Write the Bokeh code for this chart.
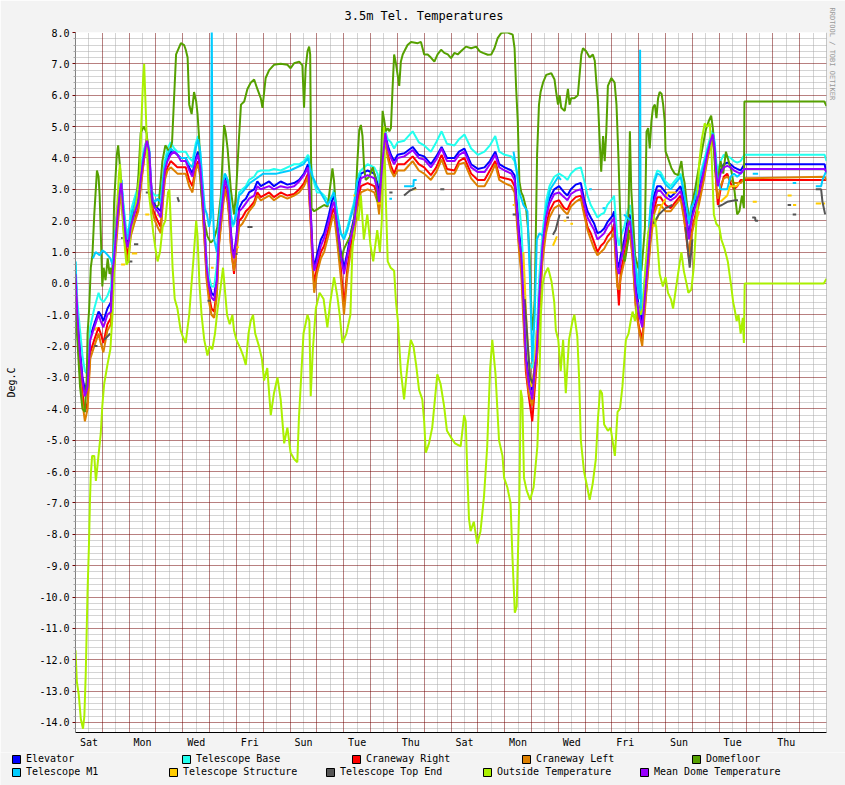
import numpy as np
from bokeh.plotting import figure
from bokeh.layouts import column
from bokeh.models import (Range1d, FixedTicker, Grid, Legend, LegendItem, Span, Title,
                          PrintfTickFormatter)
from bokeh.embed import file_html
from bokeh.resources import INLINE

nan = float("nan")
FONT = "DejaVu Sans Mono"

# ---------------- data (x = days since the first Saturday 00:00) ----------------
day_ticks = [0.5, 2.5, 4.5, 6.5, 8.5, 10.5, 12.5, 14.5, 16.5, 18.5, 20.5, 22.5, 24.5, 26.5]
day_names = ["Sat", "Mon", "Wed", "Fri", "Sun", "Tue", "Thu",
             "Sat", "Mon", "Wed", "Fri", "Sun", "Tue", "Thu"]

t_in = [0.00, 0.07, 0.17, 0.26, 0.35, 0.45, 0.55, 0.70, 0.86, 0.94,
        1.04, 1.19, 1.32, 1.38, 1.44, 1.57, 1.66, 1.71, 1.78, 1.88,
        1.94, 2.00, 2.06, 2.19, 2.34, 2.44, 2.56, 2.66, 2.75, 2.81,
        2.87, 2.96, 3.06, 3.18, 3.24, 3.33, 3.43, 3.55, 3.68, 3.80,
        3.93, 4.11, 4.24, 4.36, 4.48, 4.57, 4.65, 4.73, 4.82, 4.89,
        4.98, 5.07, 5.17, 5.27, 5.35, 5.48, 5.57, 5.67, 5.73, 5.79,
        5.85, 5.91, 6.00, 6.10, 6.22, 6.35, 6.47, 6.66, 6.78, 6.91,
        7.22, 7.40, 7.65, 7.90, 8.15, 8.34, 8.52, 8.67, 8.77, 8.84,
        8.90, 9.00, 9.15, 9.27, 9.45, 9.58, 9.64, 9.76, 9.89, 10.01,
        10.14, 10.26, 10.39, 10.51, 10.64, 10.89, 11.14, 11.26, 11.32, 11.45,
        11.55, 11.64, 11.76, 11.88, 12.01, 12.26, 12.57, 12.80, 13.00, 13.25,
        13.45, 13.65, 13.85, 14.13, 14.30, 14.50, 14.75, 15.00, 15.25, 15.45,
        15.65, 15.80, 16.00, 16.25, 16.37, 16.48, 16.54, 16.62, 16.70, 16.79,
        16.90, 17.03, 17.10, 17.20, 17.29, 17.41, 17.54, 17.67, 17.85, 18.03,
        18.22, 18.34, 18.47, 18.65, 18.84, 18.96, 19.09, 19.21, 19.34, 19.46,
        19.59, 19.71, 19.83, 20.02, 20.08, 20.14, 20.20, 20.26, 20.33, 20.46,
        20.58, 20.67, 20.77, 20.89, 21.01, 21.13, 21.19, 21.32, 21.44, 21.57,
        21.69, 21.81, 22.00, 22.19, 22.37, 22.56, 22.68, 22.81, 22.87, 22.96,
        23.06, 23.24, 23.43, 23.55, 23.68, 23.76, 23.83, 23.90, 23.95, 24.05,
        24.17, 24.30, 24.42, 24.55, 24.67, 24.80, 24.94, 27.93, 28.00]

mean_dome = [0.3, -1.0, -2.3, -3.1, -3.6, -3.3, -1.8, -1.4, -1.0, -1.2,
             -1.4, -1.0, -0.9, 0.3, 0.8, 2.2, 2.96, 3.2, 2.3, 1.4,
             1.15, 1.4, 1.8, 2.2, 2.6, 3.4, 4.1, 4.55, 4.2, 3.25,
             2.6, 2.4, 2.3, 2.1, 2.75, 3.6, 3.9, 4.1, 4.2, 4.1,
             3.9, 3.9, 3.6, 3.4, 3.9, 4.1, 3.7, 2.85, 1.6, 0.5,
             -0.1, -0.45, -0.55, 0.1, 1.6, 2.6, 3.3, 3.0, 2.5, 1.6,
             1.05, 0.8, 1.4, 2.3, 2.4, 2.55, 2.7, 2.8, 3.1, 3.0,
             3.1, 3.0, 3.1, 3.05, 3.1, 3.25, 3.45, 3.7, 2.2, 0.9,
             0.4, 0.7, 1.2, 1.45, 2.0, 2.5, 2.6, 1.8, 0.9, 0.3,
             0.9, 1.45, 1.9, 2.8, 3.35, 3.45, 3.35, 3.0, 2.6, 3.9,
             4.8, 4.3, 4.0, 3.8, 4.0, 4.05, 4.25, 4.0, 3.95, 3.7,
             3.95, 4.3, 3.9, 3.9, 4.1, 4.2, 3.7, 3.55, 3.55, 3.8,
             4.1, 3.7, 3.6, 3.5, 3.3, 2.1, 1.4, 0.9, -0.5, -2.4,
             -3.2, -3.7, -3.0, -2.1, -0.4, 1.2, 2.1, 2.55, 2.85, 2.9,
             2.75, 2.65, 2.85, 2.95, 3.0, 2.55, 2.1, 1.9, 1.7, 1.4,
             1.5, 1.6, 1.8, 2.0, 2.1, 1.2, 0.5, 0.3, 0.7, 1.2,
             1.8, 2.0, 1.2, -0.3, -1.0, -1.4, -0.8, 0.5, 1.8, 2.6,
             2.95, 2.95, 2.75, 2.65, 2.75, 2.95, 2.5, 1.8, 1.4, 2.0,
             2.3, 2.85, 3.6, 4.1, 4.55, 4.75, 4.3, 3.4, 3.1, 3.5,
             3.7, 3.75, 3.7, 3.6, 3.55, 3.5, 3.65, 3.65, 3.55]

elevator = [0.4, -0.9, -2.1, -3.0, -3.4, -3.1, -1.7, -1.3, -0.9, -1.0,
            -1.2, -0.8, -0.6, 0.5, 1.0, 2.4, 3.1, 3.3, 2.4, 1.5,
            1.3, 1.5, 1.9, 2.3, 2.7, 3.5, 4.2, 4.6, 4.2, 3.3,
            2.7, 2.5, 2.4, 2.3, 2.9, 3.7, 4.0, 4.2, 4.2, 4.1,
            4.0, 4.0, 3.7, 3.5, 4.0, 4.2, 3.8, 2.9, 1.6, 0.6,
            0.0, -0.3, -0.4, 0.2, 1.7, 2.8, 3.4, 3.1, 2.6, 1.7,
            1.1, 0.9, 1.5, 2.4, 2.6, 2.7, 2.9, 3.0, 3.25, 3.1,
            3.25, 3.1, 3.25, 3.15, 3.2, 3.3, 3.5, 3.8, 2.3, 1.0,
            0.5, 0.9, 1.4, 1.6, 2.2, 2.7, 2.8, 1.9, 1.0, 0.5,
            1.0, 1.6, 2.1, 3.0, 3.5, 3.6, 3.5, 3.2, 2.8, 4.0,
            4.8, 4.4, 4.1, 3.9, 4.1, 4.15, 4.35, 4.1, 4.05, 3.8,
            4.05, 4.35, 4.0, 4.0, 4.2, 4.3, 3.8, 3.65, 3.7, 3.9,
            4.2, 3.8, 3.7, 3.6, 3.45, 2.3, 1.6, 1.1, -0.3, -2.2,
            -3.0, -3.4, -2.8, -1.9, -0.2, 1.3, 2.3, 2.7, 3.0, 3.1,
            2.9, 2.8, 3.0, 3.15, 3.2, 2.7, 2.3, 2.1, 1.9, 1.6,
            1.65, 1.75, 1.95, 2.15, 2.3, 1.4, 0.7, 0.5, 0.9, 1.4,
            2.0, 2.2, 1.4, -0.1, -0.8, -1.2, -0.6, 0.7, 2.0, 2.8,
            3.1, 3.1, 2.9, 2.75, 2.9, 3.1, 2.7, 1.9, 1.5, 2.1,
            2.4, 3.0, 3.7, 4.2, 4.6, 4.8, 4.4, 3.5, 3.2, 3.6,
            3.8, 3.85, 3.8, 3.7, 3.65, 3.6, 3.8, 3.8, 3.5]

tel_base = [0.7, -0.6, -1.5, -2.3, -2.8, -2.9, -1.4, -0.8, -0.3, -0.5,
            -0.6, -0.4, -0.1, 0.6, 1.1, 2.4, 3.1, 3.3, 2.6, 1.8,
            1.6, 1.8, 2.3, 2.7, 3.1, 3.7, 4.3, 4.6, 4.3, 3.1,
            2.9, 2.8, 2.8, 2.85, 3.2, 3.9, 4.3, 4.5, 4.3, 4.2,
            4.2, 4.2, 4.0, 3.9, 4.45, 4.7, 4.2, 3.1, 1.6, 0.7,
            0.2, -0.1, -0.1, 0.6, 2.0, 3.1, 3.5, 3.3, 2.9, 2.2,
            1.8, 1.9, 2.3, 2.9, 3.0, 3.1, 3.3, 3.4, 3.56, 3.6,
            3.6, 3.65, 3.6, 3.7, 3.8, 3.8, 3.9, 4.1, 3.9, 3.4,
            3.2, 2.9, 2.9, 2.8, 2.6, 2.8, 3.0, 2.2, 1.6, 1.5,
            1.8, 2.2, 2.6, 3.4, 3.6, 3.8, 3.7, 3.5, 3.2, 4.2,
            4.85, 4.6, 4.5, 4.3, 4.5, 4.55, 4.85, 4.5, 4.4, 4.2,
            4.5, 4.85, 4.45, 4.4, 4.6, 4.75, 4.3, 4.1, 4.2, 4.4,
            4.7, 4.2, 4.1, 4.05, 3.9, 3.4, 2.5, 1.8, 0.5, -1.5,
            -2.5, -2.7, -2.3, -1.5, 0.2, 1.6, 2.6, 3.1, 3.4, 3.5,
            3.4, 3.3, 3.5, 3.65, 3.7, 3.3, 2.8, 2.5, 2.3, 2.1,
            2.2, 2.25, 2.5, 2.7, 2.8, 2.1, 1.5, 1.2, 1.5, 1.8,
            2.3, 2.5, 2.0, 0.6, -0.2, -0.6, -0.1, 1.1, 2.5, 3.3,
            3.6, 3.55, 3.25, 3.1, 3.3, 3.5, 3.0, 2.4, 2.0, 2.5,
            2.7, 3.3, 3.9, 4.3, 4.7, 4.9, 4.5, 3.8, 3.6, 3.9,
            4.1, 4.05, 4.0, 3.9, 3.85, 3.9, 4.1, 4.1, 3.9]

craneway_right = [0.1, -1.3, -2.6, -3.5, -4.1, -3.8, -2.2, -1.8, -1.4, -1.6,
                  -1.9, -1.3, -1.1, 0.0, 0.6, 2.0, 2.8, 3.0, 2.0, 1.2,
                  0.9, 1.2, 1.6, 2.0, 2.4, 3.2, 4.0, 4.5, 4.0, 3.0,
                  2.4, 2.2, 2.0, 1.8, 2.5, 3.4, 3.7, 3.9, 3.8, 3.7,
                  3.7, 3.7, 3.3, 3.1, 3.7, 3.9, 3.5, 2.6, 1.3, 0.2,
                  -0.4, -0.8, -0.9, -0.2, 1.3, 2.4, 3.1, 2.7, 2.2, 1.3,
                  0.8, 0.3, 1.1, 2.0, 2.1, 2.3, 2.4, 2.6, 2.9, 2.75,
                  2.9, 2.75, 2.9, 2.8, 2.85, 3.0, 3.2, 3.5, 2.0, 0.6,
                  0.0, 0.5, 1.0, 1.2, 1.8, 2.3, 2.4, 1.5, 0.5, -0.7,
                  0.5, 1.2, 1.7, 2.6, 3.1, 3.2, 3.1, 2.8, 2.4, 3.8,
                  4.6, 4.1, 3.75, 3.5, 3.8, 3.8, 4.05, 3.8, 3.7, 3.45,
                  3.7, 4.1, 3.65, 3.6, 3.9, 4.0, 3.5, 3.3, 3.3, 3.6,
                  3.9, 3.4, 3.35, 3.3, 3.1, 1.9, 1.2, 0.6, -0.8, -2.8,
                  -3.6, -4.4, -3.6, -2.5, -0.8, 0.9, 1.8, 2.3, 2.6, 2.65,
                  2.4, 2.35, 2.6, 2.75, 2.8, 2.3, 1.8, 1.6, 1.3, 1.0,
                  1.2, 1.3, 1.5, 1.7, 1.9, 0.9, 0.1, -0.7, 0.4, 0.9,
                  1.5, 1.7, 0.9, -0.7, -1.4, -1.8, -1.1, 0.2, 1.5, 2.35,
                  2.75, 2.75, 2.5, 2.4, 2.6, 2.8, 2.2, 1.2, 0.8, 1.6,
                  2.0, 2.6, 3.4, 4.0, 4.4, 4.6, 4.1, 3.0, 2.5, 3.0,
                  3.4, 3.5, 3.2, 3.0, 3.1, 3.3, 3.3, 3.3, 3.3]

craneway_left = [0.0, -1.5, -2.9, -3.8, -4.4, -4.0, -2.4, -2.0, -1.6, -1.9,
                 -2.2, -1.5, -1.3, -0.2, 0.4, 1.8, 2.6, 2.9, 1.8, 1.0,
                 0.7, 1.0, 1.5, 1.9, 2.3, 3.1, 4.0, 4.7, 4.0, 2.9,
                 2.3, 2.0, 1.8, 1.6, 2.4, 3.3, 3.6, 3.7, 3.6, 3.5,
                 3.5, 3.5, 3.1, 2.9, 3.6, 3.8, 3.4, 2.5, 1.2, 0.1,
                 -0.6, -1.0, -1.1, -0.4, 1.2, 2.3, 3.0, 2.6, 2.1, 1.2,
                 0.7, 0.4, 1.0, 1.8, 1.9, 2.1, 2.3, 2.5, 2.8, 2.65,
                 2.8, 2.65, 2.8, 2.7, 2.8, 2.9, 3.1, 3.4, 1.9, 0.5,
                 -0.3, 0.3, 0.8, 1.0, 1.6, 2.1, 2.2, 1.3, 0.2, -1.0,
                 0.3, 1.0, 1.5, 2.4, 2.9, 3.0, 2.9, 2.6, 2.2, 3.7,
                 4.7, 4.0, 3.6, 3.4, 3.6, 3.6, 3.9, 3.6, 3.5, 3.3,
                 3.55, 3.95, 3.5, 3.5, 3.8, 3.85, 3.35, 3.1, 3.1, 3.4,
                 3.8, 3.3, 3.2, 3.1, 2.9, 1.7, 1.0, 0.3, -1.2, -2.6,
                 -3.5, -3.9, -3.3, -2.4, -1.0, 0.7, 1.6, 2.1, 2.4, 2.5,
                 2.3, 2.2, 2.45, 2.6, 2.7, 2.2, 1.7, 1.4, 1.1, 0.9,
                 1.0, 1.1, 1.3, 1.5, 1.7, 0.7, -0.1, -0.2, 0.2, 0.7,
                 1.3, 1.6, 0.8, -0.8, -1.5, -2.0, -1.3, 0.1, 1.3, 2.2,
                 2.5, 2.5, 2.3, 2.3, 2.5, 2.7, 2.1, 1.3, 0.9, 1.5,
                 1.9, 2.5, 3.3, 3.9, 4.4, 4.6, 4.0, 3.0, 2.7, 3.1,
                 3.35, 3.4, 3.3, 3.2, 3.2, 3.2, 3.35, 3.4, 3.3]

t_dome = [0.00, 0.07, 0.17, 0.26, 0.35, 0.42, 0.45, 0.51, 0.57, 0.63,
          0.70, 0.80, 0.86, 0.90, 0.95, 1.00, 1.05, 1.12, 1.20, 1.27,
          1.32, 1.38, 1.44, 1.54, 1.59, 1.66, 1.75, 1.82, 1.90, 2.00,
          2.12, 2.25, 2.35, 2.43, 2.55, 2.65, 2.75, 2.85, 2.95, 3.10,
          3.24, 3.35, 3.50, 3.60, 3.68, 3.75, 3.93, 4.05, 4.11, 4.18,
          4.24, 4.33, 4.42, 4.50, 4.55, 4.61, 4.68, 4.80, 4.92, 5.04,
          5.16, 5.29, 5.42, 5.54, 5.60, 5.67, 5.79, 5.91, 5.98, 6.10,
          6.17, 6.29, 6.41, 6.53, 6.66, 6.78, 6.91, 6.97, 7.09, 7.22,
          7.40, 7.65, 7.90, 8.02, 8.15, 8.34, 8.46, 8.52, 8.58, 8.65,
          8.71, 8.75, 8.77, 8.80, 8.90, 9.08, 9.27, 9.40, 9.52, 9.58,
          9.64, 9.76, 9.89, 10.01, 10.14, 10.26, 10.39, 10.45, 10.51, 10.58,
          10.64, 10.70, 10.76, 10.82, 10.95, 11.08, 11.20, 11.26, 11.36, 11.45,
          11.51, 11.57, 11.64, 11.70, 11.76, 11.82, 11.88, 11.95, 12.01, 12.07,
          12.13, 12.20, 12.26, 12.38, 12.51, 12.76, 12.88, 13.00, 13.13, 13.25,
          13.38, 13.50, 13.63, 13.75, 13.88, 14.00, 14.13, 14.25, 14.37, 14.56,
          14.75, 14.94, 15.07, 15.19, 15.37, 15.50, 15.62, 15.74, 15.87, 15.99,
          16.12, 16.30, 16.37, 16.43, 16.49, 16.55, 16.62, 16.68, 16.74, 16.80,
          16.87, 16.93, 17.00, 17.06, 17.12, 17.15, 17.21, 17.28, 17.34, 17.43,
          17.55, 17.74, 17.86, 17.92, 17.99, 18.05, 18.11, 18.24, 18.36, 18.42,
          18.48, 18.60, 18.73, 18.86, 18.92, 19.04, 19.17, 19.29, 19.36, 19.42,
          19.48, 19.54, 19.60, 19.67, 19.73, 19.79, 19.85, 19.98, 20.10, 20.17,
          20.24, 20.30, 20.36, 20.48, 20.60, 20.67, 20.72, 20.79, 20.86, 20.98,
          21.10, 21.23, 21.29, 21.35, 21.41, 21.47, 21.53, 21.60, 21.66, 21.72,
          21.78, 21.85, 21.91, 21.97, 22.00, 22.09, 22.22, 22.34, 22.47, 22.59,
          22.65, 22.71, 22.80, 22.90, 23.00, 23.10, 23.20, 23.35, 23.50, 23.62,
          23.70, 23.77, 23.85, 23.95, 24.05, 24.15, 24.25, 24.35, 24.45, 24.55,
          24.67, 24.75, 24.85, 24.92, 24.94, 27.92, 28.00]

domefloor = [-0.9, -1.8, -3.3, -4.0, -4.1, -3.0, -1.6, -0.8, 0.5, 0.9,
             2.2, 3.6, 3.4, 2.8, 1.4, -0.1, 0.5, 0.1, 0.8, 0.3,
             0.5, -0.1, 2.6, 4.1, 4.4, 3.7, 2.6, 1.6, 1.4, 1.5,
             2.3, 2.4, 3.5, 4.8, 5.0, 4.8, 3.8, 2.7, 2.4, 2.5,
             3.9, 4.4, 4.2, 4.5, 6.0, 7.3, 7.66, 7.6, 7.45, 7.2,
             5.7, 5.4, 6.1, 5.8, 5.4, 4.6, 3.0, 2.0, 1.5, 1.3,
             1.4, 1.8, 2.8, 5.05, 4.8, 4.3, 3.0, 2.2, 2.8, 4.7,
             5.7, 5.8, 6.2, 6.4, 6.5, 6.2, 5.9, 5.6, 6.55, 6.8,
             6.97, 7.0, 6.97, 6.86, 7.02, 7.07, 6.95, 5.6, 6.86, 7.4,
             7.55, 7.3, 5.15, 2.4, 2.3, 2.4, 2.5, 2.45, 3.25, 3.67,
             3.25, 1.76, 0.7, 1.1, 1.33, 1.54, 2.0, 2.8, 3.9, 4.9,
             5.05, 4.7, 3.7, 3.3, 3.4, 3.7, 3.3, 2.6, 3.0, 5.5,
             5.2, 4.85, 4.95, 4.85, 4.95, 6.2, 7.3, 7.0, 6.65, 6.3,
             7.07, 7.3, 7.4, 7.6, 7.7, 7.66, 7.7, 7.3, 7.3, 7.2,
             7.07, 7.3, 7.45, 7.35, 7.3, 7.18, 7.35, 7.3, 7.4, 7.55,
             7.5, 7.55, 7.4, 7.35, 7.29, 7.3, 7.5, 7.82, 7.98, 8.0,
             8.0, 7.93, 7.5, 6.2, 5.15, 3.25, 2.9, 2.8, 2.6, 2.4,
             1.76, 0.9, -1.0, -1.5, -0.5, 0.9, 4.1, 5.7, 6.1, 6.4,
             6.65, 6.7, 6.5, 6.1, 5.7, 6.0, 5.6, 5.5, 6.2, 5.7,
             5.9, 5.9, 6.0, 7.3, 7.5, 7.4, 7.2, 7.3, 7.1, 6.4,
             5.8, 4.6, 3.56, 4.7, 3.9, 4.84, 6.3, 6.55, 6.4, 5.7,
             4.1, 2.4, 1.1, 0.7, 1.33, 4.85, 3.0, 2.0, 0.9, 0.5,
             0.4, 1.76, 4.84, 4.95, 4.3, 5.15, 5.6, 5.7, 5.27, 5.9,
             6.1, 6.05, 5.7, 5.15, 4.2, 4.0, 3.67, 3.5, 3.45, 3.9,
             3.45, 3.2, 2.5, 2.0, 2.6, 3.0, 3.5, 4.2, 4.9, 5.2,
             5.35, 4.9, 3.6, 3.3, 3.9, 3.5, 4.2, 3.9, 3.6, 3.1,
             2.2, 2.3, 2.8, 2.4, 5.8, 5.8, 5.65]

t_out = [0.00, 0.05, 0.12, 0.20, 0.28, 0.33, 0.38, 0.45, 0.50, 0.54,
         0.57, 0.62, 0.70, 0.76, 0.82, 0.88, 0.94, 1.00, 1.07, 1.19,
         1.30, 1.38, 1.45, 1.55, 1.62, 1.66, 1.72, 1.80, 1.90, 1.98,
         2.05, 2.20, 2.30, 2.40, 2.45, 2.52, 2.56, 2.60, 2.66, 2.72,
         2.80, 2.90, 3.00, 3.06, 3.15, 3.25, 3.35, 3.45, 3.50, 3.55,
         3.62, 3.70, 3.80, 3.92, 4.00, 4.11, 4.18, 4.24, 4.30, 4.40,
         4.50, 4.55, 4.62, 4.70, 4.80, 4.92, 5.00, 5.10, 5.20, 5.30,
         5.40, 5.50, 5.58, 5.65, 5.75, 5.85, 5.91, 6.00, 6.16, 6.25,
         6.35, 6.45, 6.53, 6.62, 6.70, 6.84, 6.95, 7.03, 7.15, 7.28,
         7.40, 7.53, 7.65, 7.78, 7.90, 8.02, 8.15, 8.27, 8.33, 8.40,
         8.50, 8.65, 8.72, 8.77, 8.85, 8.96, 9.10, 9.25, 9.39, 9.50,
         9.64, 9.76, 9.85, 9.95, 10.10, 10.25, 10.32, 10.45, 10.55, 10.64,
         10.75, 10.88, 11.00, 11.10, 11.25, 11.35, 11.42, 11.50, 11.56, 11.64,
         11.75, 11.88, 11.95, 12.02, 12.06, 12.13, 12.25, 12.38, 12.50, 12.60,
         12.70, 12.81, 12.93, 13.00, 13.06, 13.18, 13.30, 13.40, 13.49, 13.61,
         13.74, 13.85, 13.99, 14.15, 14.36, 14.49, 14.55, 14.61, 14.67, 14.73,
         14.85, 14.98, 15.10, 15.23, 15.35, 15.46, 15.54, 15.66, 15.79, 15.92,
         15.98, 16.10, 16.22, 16.29, 16.38, 16.45, 16.50, 16.55, 16.60, 16.66,
         16.72, 16.82, 16.95, 17.08, 17.22, 17.28, 17.35, 17.42, 17.50, 17.62,
         17.75, 17.85, 17.91, 18.00, 18.09, 18.18, 18.28, 18.40, 18.53, 18.60,
         18.71, 18.78, 18.84, 18.96, 19.08, 19.17, 19.28, 19.40, 19.48, 19.56,
         19.63, 19.71, 19.85, 19.95, 20.02, 20.11, 20.21, 20.30, 20.39, 20.52,
         20.62, 20.70, 20.77, 20.86, 20.95, 21.05, 21.16, 21.25, 21.35, 21.47,
         21.55, 21.65, 21.78, 21.90, 22.00, 22.09, 22.20, 22.28, 22.38, 22.50,
         22.59, 22.68, 22.78, 22.85, 22.96, 23.05, 23.15, 23.25, 23.35, 23.46,
         23.55, 23.65, 23.72, 23.80, 23.89, 24.00, 24.08, 24.20, 24.32, 24.40,
         24.45, 24.52, 24.57, 24.65, 24.72, 24.80, 24.88, 24.92, 24.95, 27.90,
         28.00]

outside = [-11.7, -12.7, -13.1, -13.9, -14.2, -13.8, -12.5, -9.8, -8.4, -6.9,
           -6.1, -5.5, -5.5, -6.3, -5.8, -5.3, -4.8, -3.9, -3.2, -2.6,
           -2.1, -1.0, 0.5, 2.4, 3.5, 3.8, 2.8, 1.5, 0.6, 0.7,
           1.6, 2.2, 2.8, 3.5, 5.0, 6.5, 7.0, 6.0, 4.5, 3.0,
           2.4, 1.6, 1.0, 0.7, 1.0, 1.8, 2.0, 2.9, 3.0, 2.0,
           0.5, -0.5, -0.8, -1.5, -1.7, -1.9, -1.4, -1.0, -0.3, 0.8,
           2.0, 1.5, 0.0, -1.0, -1.8, -2.3, -2.0, -2.1, -1.6, -0.8,
           -0.2, 0.5, -0.3, -1.0, -1.3, -1.0, -1.5, -1.8, -2.1, -2.3,
           -2.6, -1.6, -1.2, -1.0, -1.6, -2.0, -2.4, -3.1, -2.7, -4.2,
           -3.5, -3.0, -3.7, -5.1, -4.6, -5.4, -5.6, -5.7, -4.3, -3.2,
           -1.6, -1.0, -1.2, -3.6, -2.1, -0.8, -0.3, -0.5, -1.4, -0.6,
           0.2, -0.4, -1.0, -1.9, -1.6, -1.0, 1.0, 2.4, 2.0, 2.8,
           1.4, 2.2, 1.2, 0.7, 1.7, 1.0, 2.0, 5.0, 3.0, 0.7,
           0.5, 0.4, -0.6, -1.2, -1.8, -2.8, -3.7, -2.6, -1.8, -2.0,
           -2.6, -3.4, -3.7, -4.4, -5.4, -5.1, -4.6, -3.7, -2.9, -3.2,
           -3.9, -4.7, -4.9, -5.1, -5.2, -4.2, -4.4, -6.1, -7.5, -7.9,
           -7.6, -8.3, -7.9, -6.8, -5.2, -2.7, -1.8, -2.9, -5.0, -5.5,
           -6.2, -6.5, -7.0, -8.7, -10.5, -10.3, -8.5, -6.8, -3.4, -3.7,
           -6.2, -6.6, -6.9, -6.5, -5.2, -3.7, -1.0, 0.0, 0.3, 0.5,
           0.05, -0.6, -1.5, -1.8, -2.8, -1.8, -3.5, -1.8, -1.2, -1.0,
           -1.7, -3.1, -5.0, -6.0, -6.5, -6.9, -6.4, -5.6, -4.3, -3.4,
           -3.5, -4.5, -4.7, -4.6, -5.0, -5.5, -4.1, -4.0, -3.3, -1.8,
           -1.6, -1.2, -0.9, -1.2, -0.6, -1.0, -0.8, 0.5, 1.6, 2.0,
           2.2, 1.8, 0.3, -0.1, 0.2, -0.3, -0.5, -0.8, -0.2, 0.5,
           1.0, 0.4, 0.0, -0.3, -0.2, 0.5, 2.0, 3.8, 4.6, 5.1,
           5.0, 5.1, 4.0, 2.2, 1.9, 1.8, 1.4, 1.1, 0.7, 0.2,
           -0.1, -0.6, -0.8, -1.2, -1.0, -1.6, -1.1, -1.9, 0.0, 0.0,
           0.15]

t_m1 = [0.00, 0.03, 0.04,
        0.65, 0.75, 0.90, 1.00, 1.10, 1.20, 1.30, 1.38, 1.44, 1.57,
        1.66, 1.71, 1.78, 1.88, 1.94, 2.06, 2.19, 2.34, 2.44, 2.56,
        2.66, 2.75, 2.81, 2.87, 2.96, 3.06, 3.18, 3.24, 3.33, 3.43,
        3.55, 3.68, 3.80, 3.93, 4.11, 4.24, 4.36, 4.48, 4.57, 4.65,
        4.73, 4.82, 4.90, 4.98, 5.05, 5.08, 5.11, 5.17, 5.27, 5.35,
        5.48, 5.57, 5.67, 5.73, 5.79, 5.85, 5.91, 6.00, 6.10, 6.22,
        6.50, 7.00, 7.50, 8.00, 8.50, 8.67, 8.77, 8.84, 8.90, 9.00,
        9.20, 9.40, 9.64, 9.76, 9.89, 10.01, 10.14, 10.26, 10.39, 10.51,
        10.64, 10.70,
        11.70, 11.80, 11.81,
        12.25, 12.60, 12.61, 12.72, 12.73,
        16.33, 16.45, 16.55, 16.70, 16.85, 16.95, 17.03, 17.12, 17.20, 17.30,
        17.45, 17.55, 17.70, 18.00, 18.10, 18.11,
        19.15, 19.25, 19.26,
        19.65, 19.75, 19.76,
        20.45, 20.70, 20.82, 20.94, 21.02, 21.05, 21.08, 21.13, 21.20, 21.32,
        21.44, 21.57, 21.69, 21.81, 22.00, 22.19, 22.37, 22.56, 22.68, 22.81,
        22.87, 22.96, 23.06, 23.24, 23.43, 23.55, 23.68, 23.76, 23.83, 23.90,
        23.95, 24.05, 24.17, 24.30, 24.42, 24.55, 24.67, 24.80, 24.90, 24.91,
        25.25, 25.45, 25.46,
        26.74, 26.87, 26.88,
        27.60, 27.80, 27.85, 28.00]

tel_m1 = [0.7, -0.2, nan,
          0.8, 1.0, 0.9, 1.05, 1.0, 0.9, 0.8, 0.6, 1.2, 2.4,
          3.0, 3.2, 2.5, 1.6, 1.4, 2.1, 2.5, 3.0, 3.6, 4.2,
          4.5, 4.2, 3.0, 2.7, 2.6, 2.7, 2.6, 3.1, 3.8, 4.1,
          4.3, 4.2, 4.1, 4.0, 4.0, 3.8, 3.7, 4.3, 4.6, 4.2,
          3.3, 2.4, 2.2, 1.8, 2.1, 8.3, 2.7, 1.4, 1.0, 2.0,
          3.1, 3.5, 3.3, 2.9, 2.2, 1.9, 1.9, 2.3, 2.8, 2.9,
          3.2, 3.5, 3.5, 3.6, 3.8, 4.0, 3.6, 3.4, 3.3, 3.1,
          2.8, 2.5, 2.9, 2.2, 1.6, 1.4, 1.7, 2.1, 2.5, 3.3,
          3.5, nan,
          2.7, 2.7, nan,
          3.1, 3.1, 3.3, 3.3, nan,
          4.2, 3.6, 2.9, 2.5, 2.3, 0.0, -2.5, -1.0, 1.4, 1.6,
          1.5, 2.4, 3.0, 3.4, 3.3, nan,
          3.0, 3.0, nan,
          2.4, 2.4, nan,
          2.2, 2.0, 1.0, 0.0, -0.5, 7.45, -0.8, -1.0, -0.3, 1.0,
          2.4, 3.2, 3.5, 3.45, 3.15, 3.0, 3.2, 3.4, 2.9, 2.3,
          1.9, 2.4, 2.6, 3.2, 3.8, 4.2, 4.6, 4.8, 4.4, 3.6,
          3.3, 3.0, 3.0, 3.0, 3.4, 3.5, 3.4, 3.5, 3.6, nan,
          3.5, 3.5, nan,
          3.2, 3.2, nan,
          3.1, 3.1, 3.3, 3.6]

t_struct = [0.70, 0.80, 0.81, 1.00, 1.10, 1.11, 1.70, 1.85, 1.86, 2.10,
            2.30, 2.31, 2.60, 2.75, 2.76, 3.05, 3.20, 3.21, 5.05, 5.15,
            5.16, 5.98, 6.10, 6.11, 10.36, 10.42, 10.43, 11.25, 11.40, 11.41,
            12.55, 12.70, 12.71, 16.30, 16.36, 16.37, 16.70, 16.80, 16.90, 17.00,
            17.10, 17.20, 17.21, 17.80, 17.95, 17.96, 18.20, 18.30, 18.31, 18.45,
            18.55, 18.56, 21.55, 21.70, 21.80, 22.00, 22.10, 22.40, 22.41, 23.10,
            23.25, 23.26, 24.05, 24.30, 24.40, 24.65, 24.75, 24.76, 25.25, 25.40,
            25.41, 26.55, 26.70, 26.71, 26.75, 26.87, 26.88, 27.60, 27.80, 27.81,
            27.85, 27.95]
tel_struct = [-1.5, -1.4, nan, -1.3, -1.3, nan, 0.6, 0.6, nan, 0.95,
              0.95, nan, 2.2, 2.2, nan, 2.2, 2.1, nan, 0.5, 0.5,
              nan, 1.15, 1.15, nan, 2.8, 2.8, nan, 2.55, 2.55, nan,
              3.0, 3.0, nan, 2.5, 2.5, nan, 1.0, -1.0, -2.5, -3.3,
              -2.8, -1.5, nan, 1.2, 1.5, nan, 2.0, 2.0, nan, 1.9,
              1.9, nan, 1.8, 2.1, 2.4, 2.7, 2.9, 2.9, nan, 1.9,
              2.3, nan, 2.6, 2.8, 3.1, 3.1, 3.2, nan, 2.6, 2.6,
              nan, 2.8, 2.8, nan, 2.5, 2.5, nan, 2.55, 2.55, nan,
              2.55, 2.55]

t_top = [0.70, 0.82, 0.83, 1.07, 1.30, 1.31, 1.70, 1.76, 1.77, 1.94,
         2.12, 2.13, 2.18, 2.34, 2.35, 2.62, 2.75, 2.76, 3.50, 3.56,
         3.57, 3.80, 3.86, 3.87, 4.92, 5.04, 5.05, 5.98, 6.04, 6.05,
         6.41, 6.60, 6.61, 11.70, 11.82, 11.83, 12.25, 12.45, 12.70, 12.71,
         13.60, 13.75, 13.76, 16.30, 16.42, 16.43, 16.75, 16.85, 16.95, 17.05,
         17.15, 17.16, 17.80, 17.90, 18.05, 18.06, 18.30, 18.40, 18.41, 21.55,
         21.75, 22.00, 22.25, 22.26, 22.75, 22.90, 23.00, 23.01, 23.95, 24.10,
         24.30, 24.60, 24.70, 24.71, 25.23, 25.34, 25.35, 25.45, 25.46, 26.55,
         26.68, 26.69, 26.74, 26.87, 26.88, 27.60, 27.80, 27.85, 27.95]
tel_top = [-2.0, -2.0, nan, -1.8, -1.6, nan, 1.45, 1.45, nan, 0.7,
           0.7, nan, 1.25, 1.25, nan, 2.9, 2.9, nan, 2.4, 2.4,
           nan, 2.75, 2.6, nan, -0.55, -0.55, nan, 0.94, 0.94, nan,
           1.8, 1.8, nan, 2.9, 2.9, nan, 2.8, 2.95, 3.05, nan,
           3.0, 3.0, nan, 2.2, 2.2, nan, -0.5, -1.8, -3.0, -3.2,
           -2.5, nan, 1.55, 1.7, 2.2, nan, 2.1, 2.1, nan, 1.9,
           2.2, 2.4, 2.5, nan, 1.8, 0.5, 1.4, nan, 2.45, 2.5,
           2.6, 2.65, 2.65, nan, 2.1, 2.1, 2.0, 2.0, nan, 2.5,
           2.5, nan, 2.2, 2.2, nan, 3.0, 3.0, 2.6, 2.2]

for a in (mean_dome, elevator, tel_base, craneway_right, craneway_left):
    assert len(a) == len(t_in), len(a)
assert len(domefloor) == len(t_dome)
assert len(outside) == len(t_out)
assert len(tel_m1) == len(t_m1), (len(tel_m1), len(t_m1))
assert len(tel_struct) == len(t_struct), (len(tel_struct), len(t_struct))
assert len(tel_top) == len(t_top), (len(tel_top), len(t_top))

series = [
    ("Elevator", "#0000FF", t_in, elevator),
    ("Telescope Base", "#22FFEE", t_in, tel_base),
    ("Craneway Right", "#FF0000", t_in, craneway_right),
    ("Craneway Left", "#DD8000", t_in, craneway_left),
    ("Domefloor", "#55A000", t_dome, domefloor),
    ("Telescope M1", "#00CCFF", t_m1, tel_m1),
    ("Telescope Structure", "#FFCC00", t_struct, tel_struct),
    ("Telescope Top End", "#555555", t_top, tel_top),
    ("Outside Temperature", "#AAF000", t_out, outside),
    ("Mean Dome Temperature", "#9900FF", t_in, mean_dome),
]

BG = "#F3F3F3"
MAIN_H = 752
LEG_H = 785 - MAIN_H

# ---------------- main figure ----------------
p = figure(width=845, height=MAIN_H, output_backend="svg", toolbar_location=None,
           x_range=Range1d(0, 28), y_range=Range1d(-14.32, 8.0),
           min_border_left=75, min_border_right=19, min_border_top=32,
           min_border_bottom=MAIN_H - 732,
           background_fill_color="white", border_fill_color=BG)
p.frame_align = False
p.outline_line_color = None
p.xgrid.grid_line_color = None
p.ygrid.grid_line_color = None

p.title.text = "3.5m Tel. Temperatures"
p.title.align = "left"
p.title.offset = 269
p.title.text_font = FONT
p.title.text_font_size = "12px"
p.title.text_font_style = "normal"
p.title.text_color = "black"
p.title.standoff = 15
p.title.vertical_align = "top"

MINOR = "#A8A8A8"
MAJOR = "#700000"
minor_x = [d + 0.5 for d in range(28)]
major_x = list(range(29))
minor_y = [round(k * 0.2, 1) for k in range(-71, 41) if k % 5 != 0]
major_y = list(range(-14, 9))

p.add_layout(Grid(dimension=0, ticker=FixedTicker(ticks=minor_x),
                  grid_line_color=MINOR, grid_line_dash="1 1"))
p.add_layout(Grid(dimension=1, ticker=FixedTicker(ticks=minor_y),
                  grid_line_color=MINOR, grid_line_dash="1 1"))
p.add_layout(Grid(dimension=0, ticker=FixedTicker(ticks=major_x),
                  grid_line_color=MAJOR, grid_line_dash="1 1"))
p.add_layout(Grid(dimension=1, ticker=FixedTicker(ticks=major_y),
                  grid_line_color=MAJOR, grid_line_dash="1 1"))

p.xaxis.ticker = FixedTicker(ticks=day_ticks)
p.xaxis.major_label_overrides = {t: n for t, n in zip(day_ticks, day_names)}
p.xaxis.axis_line_color = "black"
p.xaxis.major_tick_line_color = None
p.xaxis.minor_tick_line_color = None
p.xaxis.major_tick_out = 0
p.xaxis.major_tick_in = 0
p.xaxis.major_label_standoff = 4
p.xaxis.major_label_text_font = FONT
p.xaxis.major_label_text_font_size = "10px"
p.xaxis.major_label_text_color = "black"

p.yaxis.ticker = FixedTicker(ticks=major_y, minor_ticks=minor_y)
p.yaxis.formatter = PrintfTickFormatter(format="%.1f")
p.yaxis.axis_line_color = "#808080"
p.yaxis.major_tick_in = 0
p.yaxis.major_tick_out = 3
p.yaxis.major_tick_line_color = MAJOR
p.yaxis.minor_tick_in = 0
p.yaxis.minor_tick_out = 2
p.yaxis.minor_tick_line_color = MINOR
p.yaxis.major_label_standoff = 3
p.yaxis.major_label_text_font = FONT
p.yaxis.major_label_text_font_size = "10px"
p.yaxis.major_label_text_color = "black"
p.yaxis.axis_label = "Deg.C"
p.yaxis.axis_label_standoff = 19
p.yaxis.axis_label_text_font = FONT
p.yaxis.axis_label_text_font_size = "10px"
p.yaxis.axis_label_text_font_style = "normal"
p.yaxis.axis_label_text_color = "black"

p.add_layout(Span(location=28, dimension="height", line_color="#909090", line_width=1))

p.add_layout(Title(text="RRDTOOL / TOBI OETIKER", align="left", offset=-25,
                   text_font=FONT, text_font_size="7px", text_font_style="normal",
                   text_color="#999999", standoff=3), "right")

for name, color, tx, vy in series:
    p.line(np.array(tx, dtype=float), np.array(vy, dtype=float),
           line_color=color, line_width=2)

# ---------------- legend strip (its own small figure) ----------------
lg = figure(width=845, height=LEG_H, output_backend="svg", toolbar_location=None,
            title=None, x_axis_location=None, y_axis_location=None,
            x_range=Range1d(0, 1), y_range=Range1d(0, 1),
            min_border=0, min_border_left=0, min_border_right=0,
            min_border_top=0, min_border_bottom=0,
            background_fill_color=BG, border_fill_color=BG)
lg.frame_align = False
lg.outline_line_color = None
lg.xgrid.visible = False
lg.ygrid.visible = False

boxes = []
for name, color, tx, vy in series:
    # one undrawable (NaN) quad per series: it only supplies the legend swatch
    r = lg.quad(left=[nan], right=[nan], top=[nan], bottom=[nan], fill_color=color,
                line_color="black", line_width=1)
    boxes.append((name, r))

def make_legend(entries, loc, label_w):
    return Legend(items=[LegendItem(label=n, renderers=[r]) for n, r in entries],
                  location=loc, orientation="horizontal",
                  glyph_width=10, glyph_height=10, label_standoff=5,
                  label_width=label_w, label_height=13, spacing=0,
                  padding=0, margin=0, border_line_color=None,
                  background_fill_alpha=0, label_text_font=FONT,
                  label_text_font_size="10px", label_text_color="black")

lg.add_layout(make_legend(boxes[:5], (11, LEG_H - 13), 155))
lg.add_layout(make_legend(boxes[5:], (11, LEG_H - 26), 142))

open("out.html", "w").write(file_html(column(p, lg, spacing=0), INLINE))
